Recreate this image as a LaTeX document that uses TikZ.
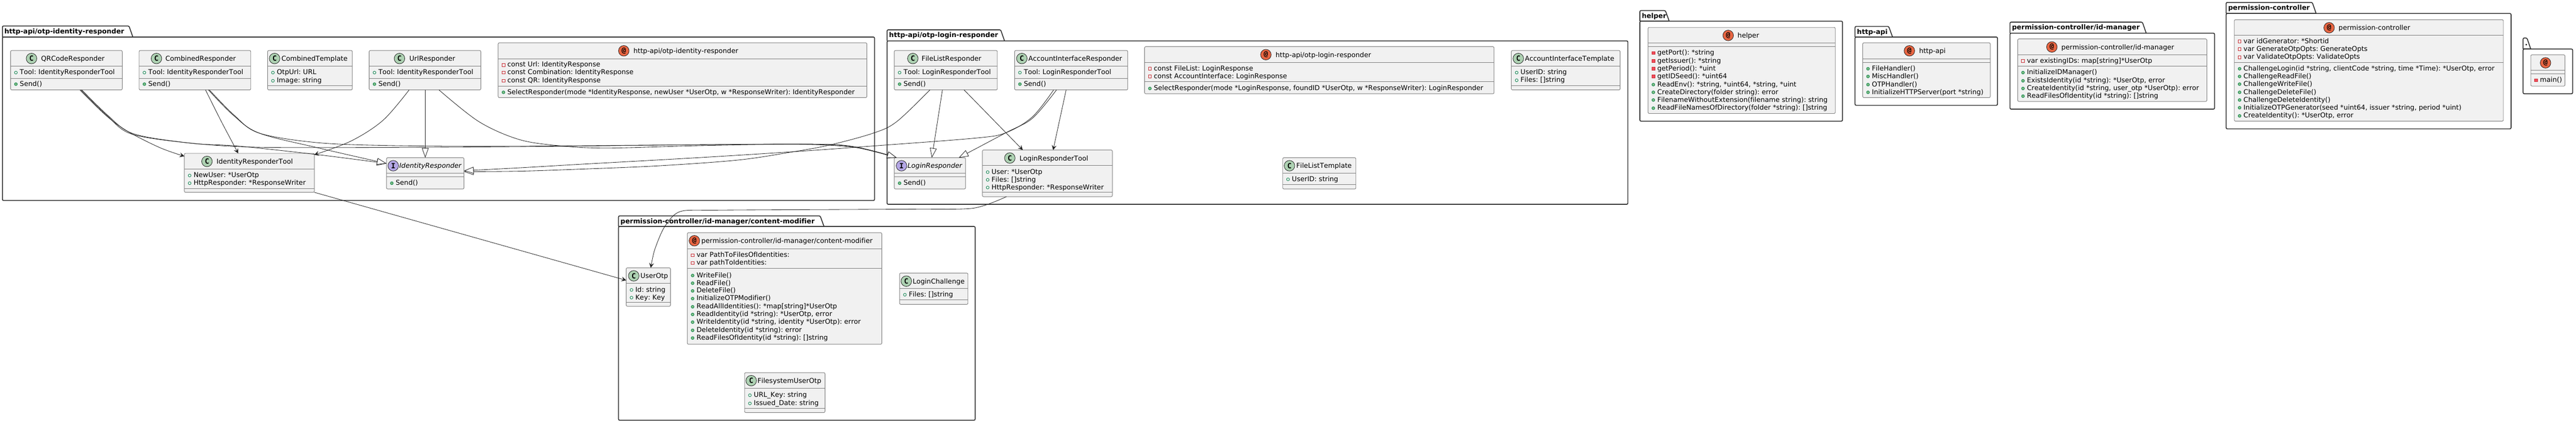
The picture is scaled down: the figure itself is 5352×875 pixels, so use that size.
\documentclass[tikz,border=0pt]{standalone}
\usepackage{fontspec}
\setmainfont{DejaVu Sans}[Ligatures=NoCommon,Kerning=Off]
\newfontfamily\badgefont{DejaVu Sans Mono}
\usetikzlibrary{positioning}
\usetikzlibrary{arrows.meta}
\usetikzlibrary{calc}

\definecolor{boxfill}{HTML}{F1F1F1}
\definecolor{boxline}{HTML}{787878}
\definecolor{pkgline}{HTML}{303030}
\definecolor{edgeline}{HTML}{202020}
\definecolor{publine}{HTML}{038048}
\definecolor{pubfill}{HTML}{84BE84}
\definecolor{privline}{HTML}{C82930}
\definecolor{privfill}{HTML}{F24D5C}
\definecolor{fillC}{HTML}{ADD1B2}
\definecolor{fillI}{HTML}{B4A7E5}
\definecolor{fillP}{HTML}{E86542}

% badge letters, by kind of class
\newcommand{\letterC}{C}
\newcommand{\letterI}{I}
\newcommand{\letterP}{@}

\tikzset{
  pkgframe/.style={draw=pkgline, line width=1.8pt, rounded corners=2.5pt},
  pkglabel/.style={anchor=base west, inner sep=0pt, font=\fontsize{14}{16}\selectfont\bfseries},
  classbox/.style={draw=boxline, fill=boxfill, line width=1pt, rounded corners=2.5pt,
    anchor=north west, inner sep=0pt, outer sep=0pt},
  classsep/.style={draw=boxline, line width=1pt},
  badge/.style={circle, draw=black!85, line width=0.9pt, minimum size=22pt, inner sep=0pt,
    font=\badgefont\fontsize{15}{16}\selectfont\bfseries},
  titletext/.style={anchor=base west, inner sep=0pt, font=\fontsize{14}{16}\selectfont},
  rowtext/.style={anchor=base west, inner sep=0pt, font=\fontsize{14}{16}\selectfont},
  fpub/.style={circle, draw=publine, line width=0.9pt, minimum size=6pt, inner sep=0pt},
  mpub/.style={circle, draw=publine, fill=pubfill, line width=0.9pt, minimum size=6pt, inner sep=0pt},
  fpriv/.style={rectangle, draw=privline, line width=0.9pt, minimum size=6pt, inner sep=0pt},
  mpriv/.style={rectangle, draw=privline, fill=privfill, line width=0.9pt, minimum size=6pt, inner sep=0pt},
  assoc/.style={draw=edgeline, line width=0.9pt, -{Stealth[length=10pt,width=10pt,inset=4pt]}},
  impl/.style={draw=edgeline, line width=0.9pt, -{Triangle[open,length=20pt,width=14pt,fill=white]}},
}

\begin{document}
\frenchspacing
\begin{tikzpicture}[x=1pt,y=-1pt]

  \useasboundingbox (0,0) rectangle (5352,875);

  % packages: name/left/tab right/tab top/body top/right/bottom/label
  \foreach \pkg/\xa/\xt/\yt/\yb/\xb/\yc/\lbl in {
    PkgIdentity/5/276/54/77/1817/417/{http-api/otp-identity-responder},
    PkgLogin/1843/2087/62/85/3382/425/{http-api/otp-login-responder},
    PkgHelper/3407/3468/22/44/3828/252/{helper},
    PkgApi/3854/3932/55/77/4150/219/{http-api},
    PkgManager/4176/4459/46/69/4601/227/{permission-controller/id-manager},
    PkgModifier/1285/1712/449/471/2026/874/{permission-controller/id-manager/content-modifier},
    PkgController/4625/4812/5/28/5217/268/{permission-controller},
    PkgRoot/5242/5258/79/102/5345/195/{.}
  }{
    \pgfmathsetmacro{\xs}{\xt-8}
    \draw[pkgframe] (\xa,\yb) -- (\xa,\yt) -- (\xs,\yt) -- (\xt,\yb);
    \draw[pkgframe] (\xa,\yb) rectangle (\xb,\yc);
    \draw[pkgframe, rounded corners=0pt] (\xa,\yb) -- (\xt,\yb);
    \pgfmathsetmacro{\ya}{\yt+16}
    \node[pkglabel] (\pkg) at (\xa+4,\ya) {\lbl};
  }

  % classes: name/left/top/right/bottom/first rule/second rule/badge/badge x/title gap/title
  \foreach \cls/\xa/\ya/\xb/\yb/\sa/\sb/\kind/\bx/\gap/\lbl in {
    QRCode/22/105/254/187/138/163/C/65.5/19.8/{QRCodeResponder},
    Combined/289/105/521/187/138/163/C/325/18.4/{CombinedResponder},
    CombinedTpl/556/105/732/187/138/178/C/570.5/14/{CombinedTemplate},
    Url/767/105/999/187/138/163/C/830/20.4/{UrlResponder},
    IdentityPkg/1035/89/1801/203/122/179/P/1296/20/{http-api/otp-identity-responder},
    IdentityTool/383/319/653/400/352/392/C/430/19.8/{IdentityResponderTool},
    Identity/803/328/964/393/360/368/I/817/12.5/{\itshape IdentityResponder},
    FileList/1858/105/2072/187/138/163/C/1896.5/18/{FileListResponder},
    Account/2108/105/2343/187/138/163/C/2123/13.5/{AccountInterfaceResponder},
    LoginPkg/2378/97/3104/195/130/170/P/2630/20/{http-api/otp-login-responder},
    AccountTpl/3140/105/3366/187/138/178/C/3154.5/13.5/{AccountInterfaceTemplate},
    Login/1858/328/2006/393/360/368/I/1873/12.5/{\itshape LoginResponder},
    LoginTool/2041/312/2311/409/344/400/C/2098/20/{LoginResponderTool},
    FileListTpl/2665/328/2817/393/360/384/C/2679/14/{FileListTemplate},
    Helper/3424/57/3813/236/89/97/P/3590.5/19.4/{helper},
    HttpApi/3870/89/4135/203/122/130/P/3967/20/{http-api},
    Manager/4192/81/4585/211/114/138/P/4263/19.5/{permission-controller/id-manager},
    Controller/4642/41/5201/252/73/130/P/4839/19.5/{permission-controller},
    Root/5258/114/5329/179/146/154/P/5288.6/14/{},
    UserOtp/1301/557/1393/637/589/629/C/1316.7/13.8/{UserOtp},
    Modifier/1428/484/1832/716/518/558/P/1442.7/14.2/{permission-controller/id-manager/content-modifier},
    Challenge/1869/568/2011/633/600/624/C/1883/13/{LoginChallenge},
    FsUserOtp/1547/775/1714/858/808/849/C/1560.7/13/{FilesystemUserOtp}
  }{
    \pgfmathsetmacro{\boxw}{\xb-\xa}
    \pgfmathsetmacro{\boxh}{\yb-\ya}
    \node[classbox, minimum width=\boxw pt, minimum height=\boxh pt] (\cls) at (\xa,\ya) {};
    \draw[classsep] (\xa,\sa) -- (\xb,\sa);
    \draw[classsep] (\xa,\sb) -- (\xb,\sb);
    \node[badge, fill=fill\kind] (\cls badge) at (\bx,\ya+16.7) {\csname letter\kind\endcsname};
    \node[titletext] (\cls title) at (\bx+\gap,\ya+22) {\lbl};
  }

  % members: class/row centre/marker/text
  \foreach \cls/\y/\vis/\lbl in {
    QRCode/150/fpub/{Tool: IdentityResponderTool}, QRCode/174/mpub/{Send()},
    Combined/150/fpub/{Tool: IdentityResponderTool}, Combined/174/mpub/{Send()},
    CombinedTpl/150/fpub/{OtpUrl: URL}, CombinedTpl/167/fpub/{Image: string},
    Url/150/fpub/{Tool: IdentityResponderTool}, Url/174/mpub/{Send()},
    IdentityPkg/134/fpriv/{const Url: IdentityResponse},
    IdentityPkg/150/fpriv/{const Combination: IdentityResponse},
    IdentityPkg/167/fpriv/{const QR: IdentityResponse},
    IdentityPkg/191/mpub/{SelectResponder(mode *IdentityResponse, newUser *UserOtp, w *ResponseWriter): IdentityResponder},
    IdentityTool/364/fpub/{NewUser: *UserOtp}, IdentityTool/380/fpub/{HttpResponder: *ResponseWriter},
    Identity/380/mpub/{Send()},
    FileList/150/fpub/{Tool: LoginResponderTool}, FileList/174/mpub/{Send()},
    Account/150/fpub/{Tool: LoginResponderTool}, Account/174/mpub/{Send()},
    LoginPkg/142/fpriv/{const FileList: LoginResponse},
    LoginPkg/158/fpriv/{const AccountInterface: LoginResponse},
    LoginPkg/183/mpub/{SelectResponder(mode *LoginResponse, foundID *UserOtp, w *ResponseWriter): LoginResponder},
    AccountTpl/150/fpub/{UserID: string}, AccountTpl/166/fpub/{Files: []string},
    Login/380/mpub/{Send()},
    LoginTool/357/fpub/{User: *UserOtp}, LoginTool/373/fpub/{Files: []string},
    LoginTool/389/fpub/{HttpResponder: *ResponseWriter},
    FileListTpl/372/fpub/{UserID: string},
    Helper/109/mpriv/{getPort(): *string}, Helper/126/mpriv/{getIssuer(): *string},
    Helper/142/mpriv/{getPeriod(): *uint}, Helper/158/mpriv/{getIDSeed(): *uint64},
    Helper/175/mpub/{ReadEnv(): *string, *uint64, *string, *uint},
    Helper/191/mpub/{CreateDirectory(folder string): error},
    Helper/207/mpub/{FilenameWithoutExtension(filename string): string},
    Helper/224/mpub/{ReadFileNamesOfDirectory(folder *string): []string},
    HttpApi/142/mpub/{FileHandler()}, HttpApi/158/mpub/{MiscHandler()},
    HttpApi/175/mpub/{OTPHandler()}, HttpApi/191/mpub/{InitializeHTTPServer(port *string)},
    Manager/126/fpriv/{var existingIDs: map[string]*UserOtp},
    Manager/150/mpub/{InitializeIDManager()},
    Manager/167/mpub/{ExistsIdentity(id *string): *UserOtp, error},
    Manager/183/mpub/{CreateIdentity(id *string, user\_otp *UserOtp): error},
    Manager/199/mpub/{ReadFilesOfIdentity(id *string): []string},
    Controller/85/fpriv/{var idGenerator: *Shortid},
    Controller/101/fpriv/{var GenerateOtpOpts: GenerateOpts},
    Controller/118/fpriv/{var ValidateOtpOpts: ValidateOpts},
    Controller/142/mpub/{ChallengeLogin(id *string, clientCode *string, time *Time): *UserOtp, error},
    Controller/158/mpub/{ChallengeReadFile()}, Controller/174/mpub/{ChallengeWriteFile()},
    Controller/191/mpub/{ChallengeDeleteFile()}, Controller/207/mpub/{ChallengeDeleteIdentity()},
    Controller/223/mpub/{InitializeOTPGenerator(seed *uint64, issuer *string, period *uint)},
    Controller/240/mpub/{CreateIdentity(): *UserOtp, error},
    Root/166/mpriv/{main()},
    UserOtp/602/fpub/{Id: string}, UserOtp/618/fpub/{Key: Key},
    Modifier/530/fpriv/{var PathToFilesOfIdentities:}, Modifier/546/fpriv/{var pathToIdentities:},
    Modifier/572/mpub/{WriteFile()}, Modifier/588/mpub/{ReadFile()},
    Modifier/604/mpub/{DeleteFile()}, Modifier/620/mpub/{InitializeOTPModifier()},
    Modifier/637/mpub/{ReadAllIdentities(): *map[string]*UserOtp},
    Modifier/653/mpub/{ReadIdentity(id *string): *UserOtp, error},
    Modifier/669/mpub/{WriteIdentity(id *string, identity *UserOtp): error},
    Modifier/686/mpub/{DeleteIdentity(id *string): error},
    Modifier/702/mpub/{ReadFilesOfIdentity(id *string): []string},
    Challenge/612/fpub/{Files: []string},
    FsUserOtp/821/fpub/{URL\_Key: string}, FsUserOtp/838/fpub/{Issued\_Date: string}
  }{
    \node[\vis] (\cls mark\y) at ($(\cls.west |- 0,\y)+(11,1)$) {};
    \node[rowtext] (\cls row\y) at ($(\cls.west |- 0,\y)+(19,5)$) {\lbl};
  }

  % QRCodeResponder
  \draw[assoc] plot[smooth,tension=0.55] coordinates {([xshift=144pt]QRCode.south west) (220,240) (265,273) (332,307) ([yshift=-6pt]IdentityTool.north west)};
  \draw[impl] plot[smooth,tension=0.55] coordinates {([xshift=146pt]QRCode.south west) (222,240) (274,279) (398,298) (497,304) (663,322) ([yshift=-12pt]Identity.north west)};
  \draw[impl] plot[smooth,tension=0.55] coordinates {([xshift=148pt]QRCode.south west) (224,240) (274,277) (373,295) (498,305) (663,307) (1078,305) (1449,301) (1697,300) (1780,307) ([xshift=5pt]Login.north west)};

  % CombinedResponder
  \draw[assoc] plot[smooth,tension=0.55] coordinates {([xshift=138pt]Combined.south west) (460,253) ([xshift=112pt]IdentityTool.north west)};
  \draw[impl] plot[smooth,tension=0.55] coordinates {([xshift=144pt]Combined.south west) (485,240) (539,277) (663,308) ([yshift=-12pt]Identity.north west)};
  \draw[impl] plot[smooth,tension=0.55] coordinates {([xshift=146pt]Combined.south west) (487,240) (539,277) (663,297) (830,303) (1078,304) (1449,301) (1697,300) (1780,306) ([xshift=5pt]Login.north west)};

  % UrlResponder
  \draw[assoc] plot[smooth,tension=0.55] coordinates {([xshift=83pt]Url.south west) (796,250) (730,293) ([yshift=-3pt]IdentityTool.north east)};
  \draw[impl] (Url.south -| Identity.north) -- (Identity.north);
  \draw[impl] plot[smooth,tension=0.55] coordinates {([xshift=145pt]Url.south west) (995,253) (1078,290) (1161,303) (1260,308) (1449,303) (1656,300) (1780,307) ([xshift=5pt]Login.north west)};

  % FileListResponder
  \draw[impl] plot[smooth,tension=0.55] coordinates {([xshift=74pt]FileList.south west) (1863,253) (1814,277) (1722,302) (1640,317) (1532,333) (1366,345) (1200,352) (1080,356) ([yshift=-29pt]Identity.north east)};
  \draw[impl] ([xshift=100pt]FileList.south west) -- ([xshift=78pt]Login.north west);
  \draw[assoc] ([xshift=145pt]FileList.south west) -- ([xshift=84pt]LoginTool.north west);

  % AccountInterfaceResponder
  \draw[impl] plot[smooth,tension=0.55] coordinates {([xshift=81pt]Account.south west) (2145,243) (2090,276) (2029,287) (1822,303) (1656,315) (1449,328) (1200,342) (1080,349) ([yshift=-27pt]Identity.north east)};
  \draw[impl] plot[smooth,tension=0.55] coordinates {([xshift=87pt]Account.south west) (2145,246) (2090,276) ([xshift=-14pt]Login.north east)};
  \draw[assoc] ([xshift=107pt]Account.south west) -- ([xshift=147pt]LoginTool.north west);

  % towards UserOtp
  \draw[assoc] (IdentityTool.south east) -- ([yshift=-26pt]UserOtp.north west);
  \draw[assoc] plot[smooth,tension=0.45] coordinates {([xshift=50pt]LoginTool.south west) (2022,433) (1891,435) (1500,437) (1413,440) (1380,473) (1360,520) ([xshift=51pt]UserOtp.north west)};

\end{tikzpicture}
\end{document}
